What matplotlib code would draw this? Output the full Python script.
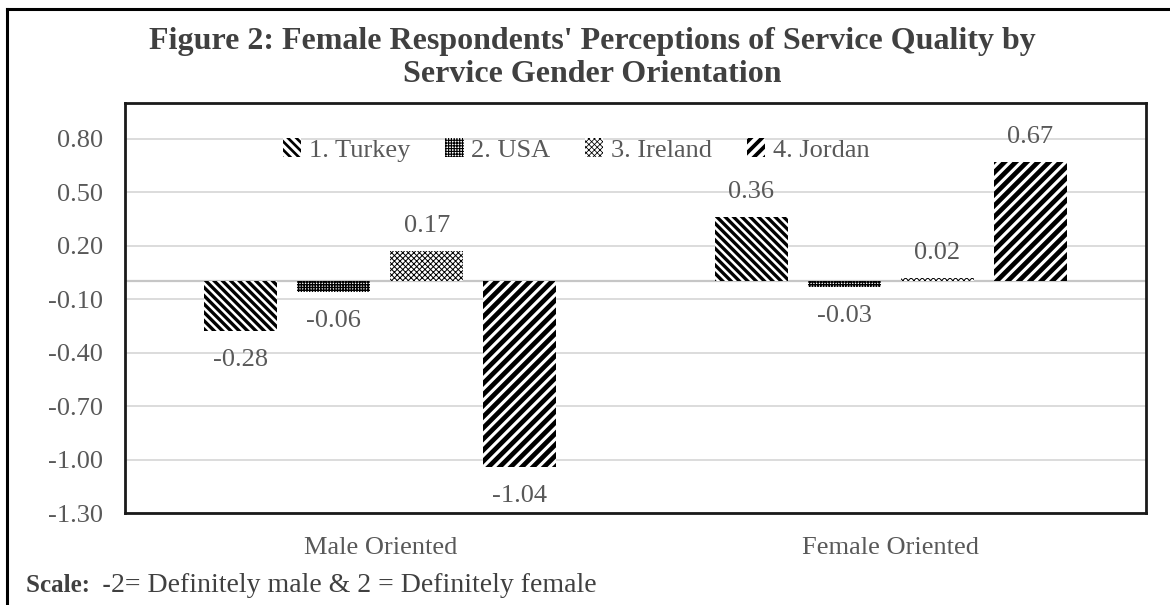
import numpy as np
import matplotlib.pyplot as plt
from matplotlib.patches import Patch

plt.rcParams['font.family'] = ['Liberation Serif', 'DejaVu Serif']

# data
categories = ['Male Oriented', 'Female Oriented']
countries = ['1. Turkey', '2. USA', '3. Ireland', '4. Jordan']
turkey = [-0.28, 0.36]
usa = [-0.06, -0.03]
ireland = [0.17, 0.02]
jordan = [-1.04, 0.67]
series = [turkey, usa, ireland, jordan]

hatches = ['\\\\\\\\', '++++++', 'xxxxxx', '///']
hatch_lw = [2.4, 1.0, 0.7, 3.4]
grey = '#595959'
fs = 19

fig = plt.figure(figsize=(11.7, 6.05), dpi=100)
ax = fig.add_axes([125 / 1170, 92 / 605, 1021 / 1170, 410 / 605])

x = np.arange(len(categories))
width = 0.143
step = 0.182
handles = []
for i, (vals, h) in enumerate(zip(series, hatches)):
    plt.rcParams['hatch.linewidth'] = hatch_lw[i]
    pos = x + (i - 1.5) * step
    bars = ax.bar(pos, vals, width, color='white', edgecolor='black',
                  linewidth=0, hatch=h, zorder=3)
    for p in bars:
        if hasattr(p, 'set_hatch_linewidth'):
            p.set_hatch_linewidth(hatch_lw[i])
    handles.append(Patch(facecolor='white', edgecolor='black', linewidth=0, hatch=h))
    for xi, v in zip(pos, vals):
        off = 18 if v >= 0 else -21
        ax.annotate(f"{v:.2f}", (xi, v), xytext=(0, off),
                    textcoords='offset points', ha='center', va='center',
                    fontsize=fs, color=grey)
plt.rcParams['hatch.linewidth'] = 1.0

ax.set_xlim(-0.5, 1.5)
ax.set_ylim(-1.3, 1.0)
ticks = np.arange(-1.3, 0.81, 0.3)
ax.set_yticks(ticks)
ax.set_yticklabels([f"{t:.2f}" for t in ticks])
ax.set_xticks(x)
ax.set_xticklabels(categories)
ax.tick_params(axis='both', length=0, labelsize=fs, labelcolor=grey)
ax.tick_params(axis='y', pad=16)
ax.tick_params(axis='x', pad=17)
ax.grid(axis='y', color='#d9d9d9', lw=1.3, zorder=0)
ax.axhline(0, color='#c6c6c6', lw=1.6, zorder=2)
for s in ax.spines.values():
    s.set_linewidth(2)
    s.set_color('#1a1a1a')

leg = ax.legend(handles, countries, loc='center', bbox_to_anchor=(0.442, 0.885),
                ncol=4, frameon=False, fontsize=fs, labelcolor=grey,
                handlelength=0.7, handleheight=0.7, handletextpad=0.3,
                columnspacing=1.3)
for p, lw in zip(leg.legend_handles, hatch_lw):
    if hasattr(p, 'set_hatch_linewidth'):
        p.set_hatch_linewidth(lw * 0.8)

fig.text(592 / 1170, 1 - 42 / 605, "Figure 2: Female Respondents' Perceptions of Service Quality by",
         ha='center', va='center', fontsize=23, fontweight='bold', color='#404040')
fig.text(592 / 1170, 1 - 74 / 605, "Service Gender Orientation",
         ha='center', va='center', fontsize=23, fontweight='bold', color='#404040')

# footer note
t1 = fig.text(26 / 1170, 1 - 586 / 605, "Scale:  -", fontsize=18,
              fontweight='bold', color='#404040', va='center')
fig.canvas.draw()
bb = t1.get_window_extent()
fig.text(bb.x1 / 1170, 1 - 586 / 605, "2= Definitely male & 2 = Definitely female",
         fontsize=20, color='#404040', va='center')

# outer border (top and left only are visible)
fig.add_artist(plt.Line2D([7 / 1170, 7 / 1170], [0, 1 - 9 / 605],
                          color='black', lw=2.2))
fig.add_artist(plt.Line2D([7 / 1170, 1], [1 - 9 / 605, 1 - 9 / 605],
                          color='black', lw=2.2))

fig.savefig('out.png', dpi=100)
